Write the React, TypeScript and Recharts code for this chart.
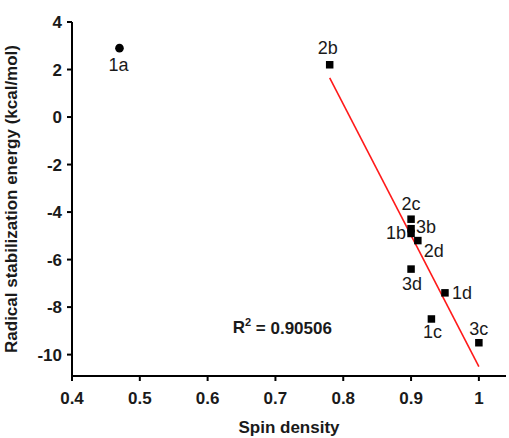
import React from 'react';
import { ScatterChart, Scatter, XAxis, YAxis, ReferenceLine, ReferenceDot, Label } from 'recharts';

// ---- data ----
const compoundLabels = ['2b', '2c', '3b', '1b', '2d', '3d', '1d', '1c', '3c'];
const spinDensity = [0.78, 0.9, 0.9, 0.9, 0.91, 0.9, 0.95, 0.93, 1.0];
const stabilizationEnergy = [2.2, -4.3, -4.7, -4.9, -5.2, -6.4, -7.4, -8.5, -9.5];

const outlierLabels = ['1a'];
const outlierSpin = [0.47];
const outlierEnergy = [2.9];

const xTicks = [0.4, 0.5, 0.6, 0.7, 0.8, 0.9, 1];
const yTicks = [-10, -8, -6, -4, -2, 0, 2, 4];
const xAxisTitle = 'Spin density';
const yAxisTitle = 'Radical stabilization energy (kcal/mol)';
const rSquaredValue = '0.90506';

// ---- derived tables ----
const fitData = compoundLabels.map((name, i) => ({ name, x: spinDensity[i], y: stabilizationEnergy[i] }));
const outlierData = outlierLabels.map((name, i) => ({ name, x: outlierSpin[i], y: outlierEnergy[i] }));

// least-squares regression line through the fitted compounds
const n = spinDensity.length;
const mx = spinDensity.reduce((a, b) => a + b, 0) / n;
const my = stabilizationEnergy.reduce((a, b) => a + b, 0) / n;
let sxy = 0;
let sxx = 0;
for (let i = 0; i < n; i++) {
  sxy += (spinDensity[i] - mx) * (stabilizationEnergy[i] - my);
  sxx += (spinDensity[i] - mx) ** 2;
}
const slope = sxy / sxx;
const intercept = my - slope * mx;
const xMin = Math.min(...spinDensity);
const xMax = Math.max(...spinDensity);
const fitSegment = [
  { x: xMin, y: intercept + slope * xMin },
  { x: xMax, y: intercept + slope * xMax },
];

// ---- styling ----
const FONT = '"Liberation Sans", Arial, Helvetica, sans-serif';
const TEXT = '#1a1a1a';

// label offsets (dx, dy, anchor) relative to marker centre
const labelPlacement: Record<string, [number, number, 'start' | 'middle' | 'end']> = {
  '1a': [-1, 17, 'middle'],
  '2b': [-2, -17, 'middle'],
  '2c': [0, -15, 'middle'],
  '3b': [5, -2, 'start'],
  '1b': [-5, 0, 'end'],
  '2d': [16, 10, 'middle'],
  '3d': [1, 15, 'middle'],
  '1d': [7, 0, 'start'],
  '1c': [1, 13, 'middle'],
  '3c': [0, -14, 'middle'],
};

const PointLabel = ({ cx, cy, name }: { cx: number; cy: number; name: string }) => {
  const p = labelPlacement[name] || [0, -14, 'middle'];
  return (
    <text
      x={cx + p[0]}
      y={cy + p[1]}
      textAnchor={p[2]}
      dominantBaseline="central"
      fontFamily={FONT}
      fontSize={18}
      fill={TEXT}
    >
      {name}
    </text>
  );
};

const SquareShape = (props: any) => {
  const { cx, cy, payload } = props;
  const s = 7.5;
  return (
    <g>
      <rect x={cx - s / 2} y={cy - s / 2} width={s} height={s} fill="#000" />
      <PointLabel cx={cx} cy={cy} name={payload.name} />
    </g>
  );
};

const CircleShape = (props: any) => {
  const { cx, cy, payload } = props;
  return (
    <g>
      <circle cx={cx} cy={cy} r={4.3} fill="#000" />
      <PointLabel cx={cx} cy={cy} name={payload.name} />
    </g>
  );
};

const XTick = (props: any) => {
  const { x, y, payload } = props;
  const v = payload.value;
  const txt = v === 1 ? '1' : v.toFixed(1);
  return (
    <text x={x} y={y} dy="0.71em" textAnchor="middle" fontFamily={FONT} fontWeight="bold" fontSize={17} fill={TEXT}>
      {txt}
    </text>
  );
};

const YTick = (props: any) => {
  const { x, y, payload } = props;
  return (
    <text x={x} y={y} dy="0.36em" textAnchor="end" fontFamily={FONT} fontWeight="bold" fontSize={17} fill={TEXT}>
      {String(payload.value)}
    </text>
  );
};

const RSquared = (props: any) => {
  const { cx, cy } = props;
  return (
    <text x={cx} y={cy} dominantBaseline="central" fontFamily={FONT} fontWeight="bold" fontSize={17} fill={TEXT}>
      R
      <tspan dy={-6} fontSize={11}>2</tspan>
      <tspan dy={6}>{' = ' + rSquaredValue}</tspan>
    </text>
  );
};

export default function App() {
  return (
    <div style={{ position: 'absolute', left: 0, top: 0, width: 509, height: 438, background: '#fff' }}>
      <ScatterChart width={509} height={438} margin={{ top: 22, right: 3, bottom: 0, left: 0 }}>
        <XAxis
          type="number"
          dataKey="x"
          domain={[0.4, 1.04]}
          ticks={xTicks}
          allowDataOverflow
          height={62}
          tickSize={5}
          tickMargin={11}
          tick={<XTick />}
          axisLine={{ stroke: '#000', strokeWidth: 2 }}
          tickLine={{ stroke: '#000', strokeWidth: 2 }}
        >
          <Label
            value={xAxisTitle}
            position="insideBottom"
            offset={5}
            style={{ fontFamily: FONT, fontWeight: 'bold', fontSize: 17, fill: TEXT }}
          />
        </XAxis>
        <YAxis
          type="number"
          dataKey="y"
          domain={[-10.9, 4]}
          ticks={yTicks}
          allowDataOverflow
          width={72}
          tickSize={5}
          tickMargin={5}
          tick={<YTick />}
          axisLine={{ stroke: '#000', strokeWidth: 2 }}
          tickLine={{ stroke: '#000', strokeWidth: 2 }}
        >
          <Label
            value={yAxisTitle}
            angle={-90}
            position="insideLeft"
            offset={11}
            style={{ fontFamily: FONT, fontWeight: 'bold', fontSize: 17, fill: TEXT, textAnchor: 'middle' }}
          />
        </YAxis>
        <ReferenceLine segment={fitSegment} stroke="#ff1a1a" strokeWidth={1.6} ifOverflow="visible" />
        <Scatter data={outlierData} shape={<CircleShape />} isAnimationActive={false} />
        <Scatter data={fitData} shape={<SquareShape />} isAnimationActive={false} />
        <ReferenceDot x={0.637} y={-8.86} r={0} ifOverflow="visible" shape={<RSquared />} />
      </ScatterChart>
    </div>
  );
}
